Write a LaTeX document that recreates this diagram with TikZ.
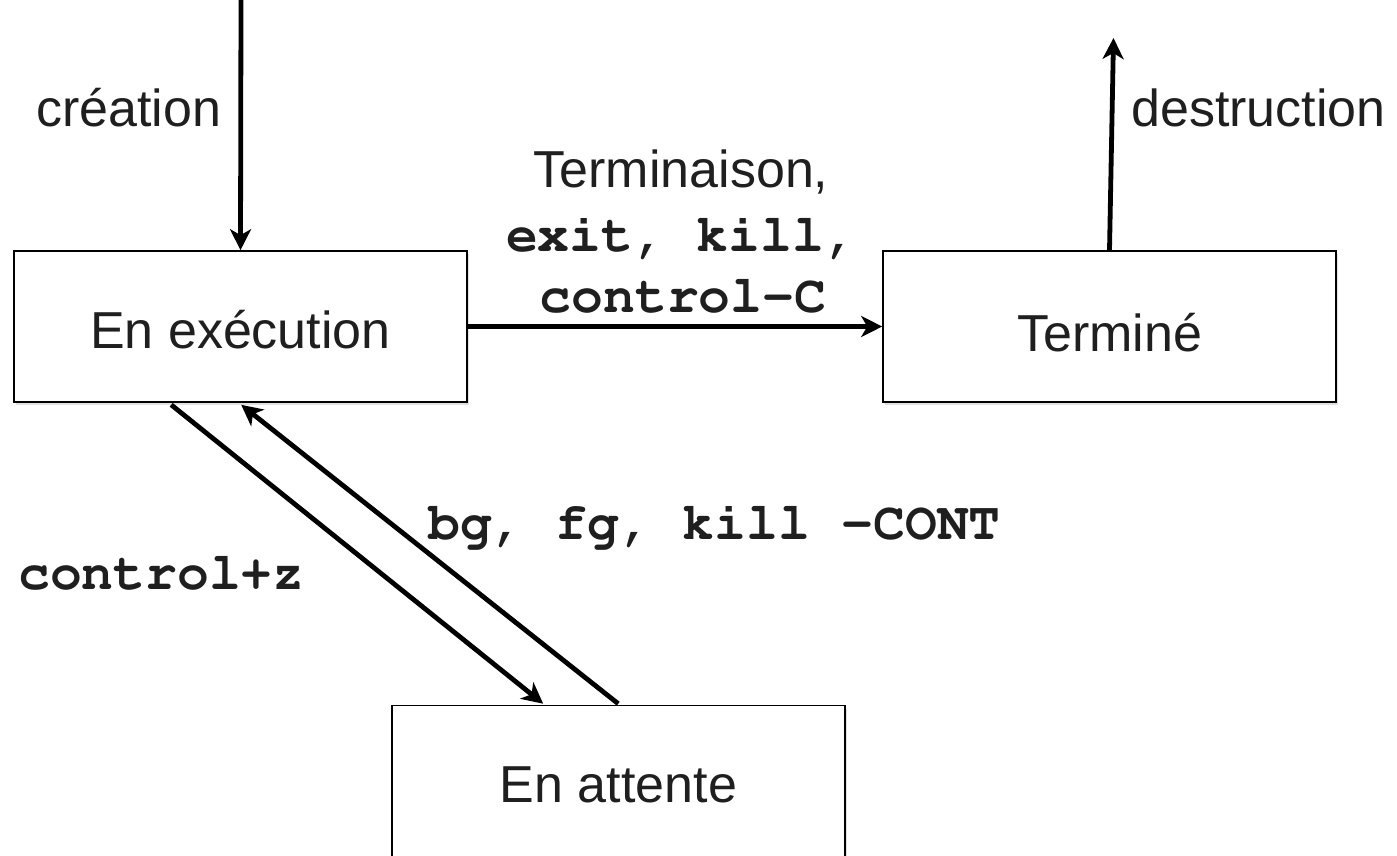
\documentclass[tikz,border=0pt]{standalone}
\usepackage{fontspec}
\setmainfont{Liberation Sans}
\setmonofont{Liberation Mono}
\usetikzlibrary{arrows.meta,calc,shadows}
\newcommand{\courierbold}{\fontencoding{T1}\fontfamily{pcr}\fontseries{b}\fontsize{53}{62}\selectfont}
\tikzset{
  statebox/.style={draw=black, line width=1.6pt, fill=white, minimum width=453pt, minimum height=151pt, inner sep=0pt,
    drop shadow={shadow xshift=2pt, shadow yshift=-3pt, opacity=0.12, fill=black}},
  boxtext/.style={font=\fontsize{52}{62}\selectfont, text=black!88, inner sep=0pt},
  lbl/.style={font=\fontsize{52}{62}\selectfont, text=black!88, inner sep=0pt},
  codelbl/.style={font=\courierbold, text=black!88, inner sep=0pt},
  conn/.style={line width=4.8pt, -{Stealth[length=21pt, width=21pt, inset=6pt]}}
}
\begin{document}
\begin{tikzpicture}[x=1pt, y=-1pt]
\useasboundingbox (0,0) rectangle (1397,855);
\clip (0,0) rectangle (1397,855);
% boxes
\node[statebox] (exec) at (240.5,326.5) {};
\node[statebox] (term) at (1109.5,326.5) {};
\node[statebox] (wait) at (618.5,781) {};
% box texts
\node[boxtext] (execT) at (240.5,330) {En exécution};
\node[boxtext] (termT) at (1109.5,333) {Terminé};
\node[boxtext] (waitT) at (618.5,785) {En attente};
% free ends
\coordinate (top) at (241,-2);
\coordinate (up) at (1113.5,38);
% connectors
\draw[conn] (top) -- (exec.north);
\draw[conn] (term.north) -- (up);
\draw[conn] (exec.east) -- (term.west);
\draw[conn] ($(exec.south west)+(158,2)$) -- ($(wait.north west)+(152,-1)$);
\draw[conn] ($(wait.north west)+(227,-1)$) -- ($(exec.south west)+(228,2)$);
% labels
\node[lbl, anchor=west] (creation) at (36,108) {création};
\node[lbl, anchor=west] (destr) at (1131,108) {destruction};
\node[lbl] (termin) at (681,172) {Terminaison,};
\node[codelbl] (exitkill) at (681,237) {exit, kill,};
\node[codelbl] (ctrlc) at (683,296) {control-C};
\node[codelbl, anchor=west] (bgfg) at (428,525) {bg, fg, kill -CONT};
\node[codelbl, anchor=west] (ctrlz) at (18,573) {control+z};
\end{tikzpicture}
\end{document}
